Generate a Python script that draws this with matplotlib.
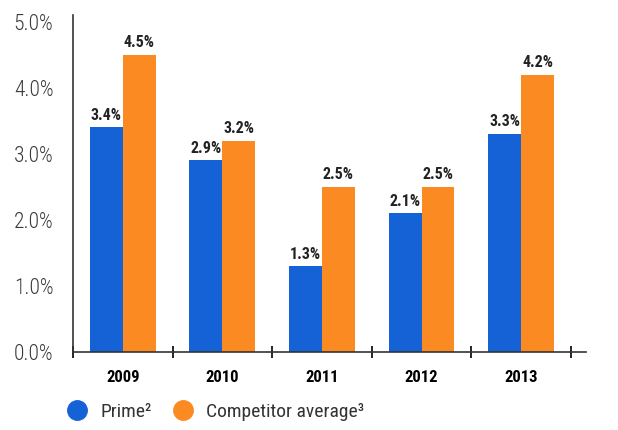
import numpy as np
import matplotlib.pyplot as plt
from matplotlib.lines import Line2D
from matplotlib.ticker import FixedLocator, NullFormatter

# yearly rates, in percent
years = ['2009', '2010', '2011', '2012', '2013']
prime = [3.4, 2.9, 1.3, 2.1, 3.3]
competitor = [4.5, 3.2, 2.5, 2.5, 4.2]

blue = '#1462d6'
orange = '#fb8a22'
plt.rcParams['font.family'] = ['Roboto Condensed', 'DejaVu Sans']

fig = plt.figure(figsize=(6.18, 4.30), dpi=100)
ax = fig.add_axes([0.118, 0.181, 0.830, 0.784])

x = np.arange(len(years))
w = 0.33
ax.bar(x - w / 2, prime, w, color=blue)
ax.bar(x + w / 2, competitor, w, color=orange)

for xi, v in zip(x, prime):
    ax.text(xi - w / 2, v + 0.07, f'{v:.1f}%', ha='center', va='bottom',
            fontsize=11.5, fontweight='bold', color='#222222')
for xi, v in zip(x, competitor):
    ax.text(xi + w / 2, v + 0.07, f'{v:.1f}%', ha='center', va='bottom',
            fontsize=11.5, fontweight='bold', color='#222222')

ax.set_xlim(-0.5, len(years) - 0.35)
ax.set_ylim(0, 5.1)
ticks = np.arange(0, 5.1, 1.0)
ax.set_yticks(ticks)
ax.set_yticklabels([f'{t:.1f}%' for t in ticks], fontsize=15.5,
                   color='#3a3a3a', fontweight='light')
ax.tick_params(axis='y', length=0, pad=14)

# group boundaries carry the tick marks, year names sit between them
ax.xaxis.set_major_locator(FixedLocator(np.arange(-0.5, len(years), 1.0)))
ax.xaxis.set_major_formatter(NullFormatter())
ax.xaxis.set_minor_locator(FixedLocator(x))
ax.set_xticklabels(years, minor=True, fontsize=12, fontweight='bold')
ax.tick_params(axis='x', which='major', length=8, width=1.2, direction='inout')
ax.tick_params(axis='x', which='minor', length=0, pad=13)

for s in ['top', 'right']:
    ax.spines[s].set_visible(False)
for s in ['left', 'bottom']:
    ax.spines[s].set_linewidth(1.2)
    ax.spines[s].set_color('#333333')

handles = [
    Line2D([], [], marker='o', ls='', ms=14, color=blue),
    Line2D([], [], marker='o', ls='', ms=14, color=orange),
]
fig.legend(handles, ['Prime²', 'Competitor average³'], loc='lower left',
           bbox_to_anchor=(0.065, -0.02), ncol=2, frameon=False, fontsize=14,
           handletextpad=0.2, columnspacing=0.6, labelcolor='#333333')

fig.savefig('out.png', dpi=100)
